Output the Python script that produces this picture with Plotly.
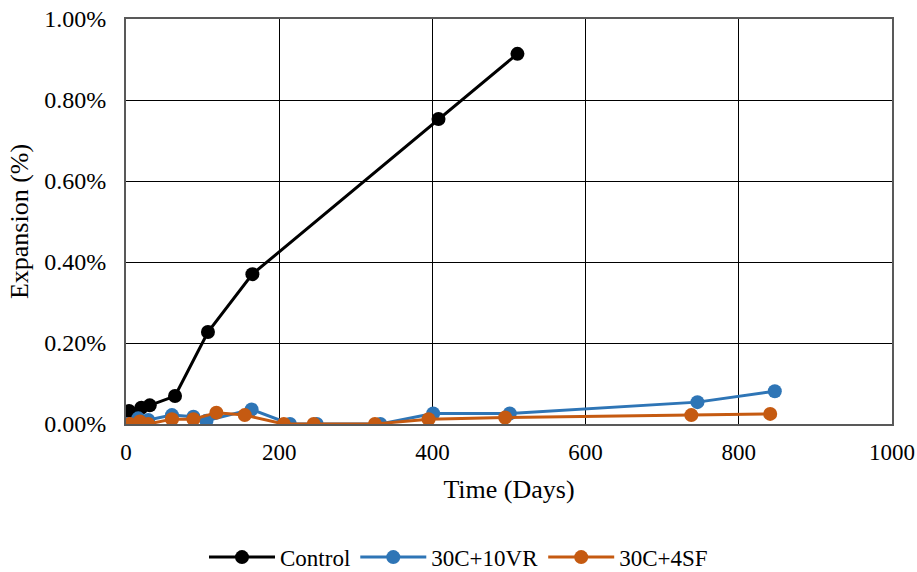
import plotly.graph_objects as go

# Data (expansion in %)
control_days = [4, 20, 31, 64, 107, 165, 408, 511]
control_exp = [0.032, 0.040, 0.046, 0.069, 0.227, 0.370, 0.753, 0.914]

vr_days = [1, 16, 29, 60, 88, 105, 164, 214, 249, 332, 401, 501, 746, 847]
vr_exp = [0.000, 0.014, 0.010, 0.022, 0.018, 0.008, 0.036, 0.000, 0.000, 0.000, 0.026, 0.026, 0.054, 0.081]

sf_days = [5, 18, 29, 60, 88, 118, 155, 206, 245, 325, 395, 495, 738, 841]
sf_exp = [0.000, 0.006, 0.000, 0.012, 0.012, 0.028, 0.022, 0.000, 0.000, 0.000, 0.012, 0.016, 0.022, 0.025]

x_ticks = [0, 200, 400, 600, 800, 1000]
y_ticks = [0.0, 0.2, 0.4, 0.6, 0.8, 1.0]

FONT = "Liberation Serif, Times New Roman, serif"

fig = go.Figure()
series = [
    ("Control", control_days, control_exp, "#000000"),
    ("30C+10VR", vr_days, vr_exp, "#2E75B6"),
    ("30C+4SF", sf_days, sf_exp, "#C55A11"),
]
for name, xs, ys, col in series:
    fig.add_trace(go.Scatter(
        x=xs, y=ys, name=name, mode="lines+markers",
        line=dict(color=col, width=3),
        marker=dict(color=col, size=14),
    ))

fig.update_layout(
    width=917, height=572,
    margin=dict(l=126, r=25, t=19, b=148, autoexpand=False),
    paper_bgcolor="white", plot_bgcolor="white",
    font=dict(family=FONT, size=22, color="#000000"),
    showlegend=True,
    legend=dict(orientation="h", xref="container", yref="container",
                x=0.5, xanchor="center", y=0.026, yanchor="middle",
                font=dict(family=FONT, size=23, color="#000000"),
                traceorder="normal", itemwidth=66),
    xaxis=dict(
        range=[0, 1000], tickvals=x_ticks, ticktext=[str(t) for t in x_ticks],
        showgrid=True, gridcolor="#000000", gridwidth=1,
        showline=True, linecolor="#595959", linewidth=2, mirror=True,
        zeroline=False, ticks="", tickfont=dict(size=23),
        ticklabelstandoff=6, ticklabeloverflow="allow",
        title=dict(text="Time (Days)", font=dict(size=26), standoff=16),
    ),
    yaxis=dict(
        range=[0, 1.0], tickvals=y_ticks, ticktext=[f"{v:.2f}%" for v in y_ticks],
        showgrid=True, gridcolor="#000000", gridwidth=1,
        showline=True, linecolor="#595959", linewidth=2, mirror=True,
        zeroline=False, ticks="", tickfont=dict(size=24),
        ticklabelstandoff=13, ticklabeloverflow="allow",
        title=dict(text="Expansion (%)", font=dict(size=26), standoff=8),
    ),
)

# remove the page's default body margin so the figure fills the window
fig.write_html("out.html", config={"displayModeBar": False},
               post_script="document.body.style.margin='0';")
